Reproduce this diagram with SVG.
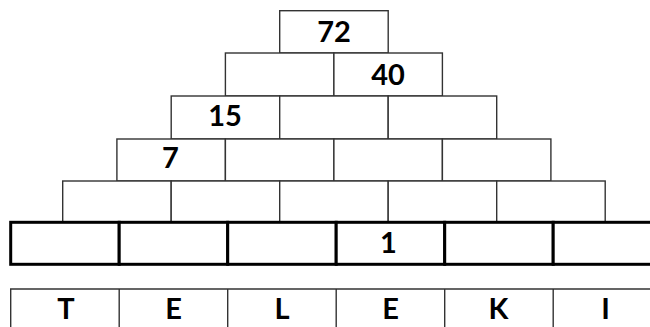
<svg xmlns="http://www.w3.org/2000/svg" width="650" height="327" viewBox="0 0 650 327">
<style>
.c{fill:#fff;stroke:#333;stroke-width:1.4}
.b{fill:#fff;stroke:#000;stroke-width:3}
.l{fill:none;stroke:#333;stroke-width:1.4}
text{font-family:Lato,"Liberation Sans",sans-serif;font-weight:bold;font-size:29px;fill:#000;text-anchor:middle}
</style>
<rect width="650" height="327" fill="#fff"/>
<g id="row1">
<rect class="c" x="279.7" y="10.7" width="108.5" height="42.3"/>
<text x="334" y="42">72</text>
</g>
<g id="row2">
<rect class="c" x="225.4" y="53" width="108.5" height="43"/>
<rect class="c" x="333.9" y="53" width="108.5" height="43"/>
<text x="388" y="85">40</text>
</g>
<g id="row3">
<rect class="c" x="171.2" y="96" width="108.5" height="43"/>
<rect class="c" x="279.7" y="96" width="108.5" height="43"/>
<rect class="c" x="388.2" y="96" width="108.5" height="43"/>
<text x="225" y="126">15</text>
</g>
<g id="row4">
<rect class="c" x="116.9" y="139" width="108.5" height="42"/>
<rect class="c" x="225.4" y="139" width="108.5" height="42"/>
<rect class="c" x="333.9" y="139" width="108.5" height="42"/>
<rect class="c" x="442.4" y="139" width="108.5" height="42"/>
<text x="170.5" y="168">7</text>
</g>
<g id="row5">
<rect class="c" x="62.7" y="181" width="108.5" height="41.3"/>
<rect class="c" x="171.2" y="181" width="108.5" height="41.3"/>
<rect class="c" x="279.7" y="181" width="108.5" height="41.3"/>
<rect class="c" x="388.2" y="181" width="108.5" height="41.3"/>
<rect class="c" x="496.7" y="181" width="108.5" height="41.3"/>
</g>
<g id="row6">
<rect class="b" x="10.7" y="222.3" width="108.5" height="42"/>
<rect class="b" x="119.2" y="222.3" width="108.5" height="42"/>
<rect class="b" x="227.7" y="222.3" width="108.5" height="42"/>
<rect class="b" x="336.2" y="222.3" width="108.5" height="42"/>
<rect class="b" x="444.7" y="222.3" width="108.5" height="42"/>
<rect class="b" x="553.2" y="222.3" width="108.5" height="42"/>
<text x="388.5" y="253">1</text>
</g>
<g id="letters">
<path class="l" d="M10.7,330 V289 H660 M119.2,289 V330 M227.7,289 V330 M336.2,289 V330 M444.7,289 V330 M553.2,289 V330"/>
<text x="66" y="319">T</text>
<text x="173.5" y="319">E</text>
<text x="282" y="319">L</text>
<text x="390.5" y="319">E</text>
<text x="498.5" y="319">K</text>
<text x="605.5" y="319">I</text>
</g>
</svg>
